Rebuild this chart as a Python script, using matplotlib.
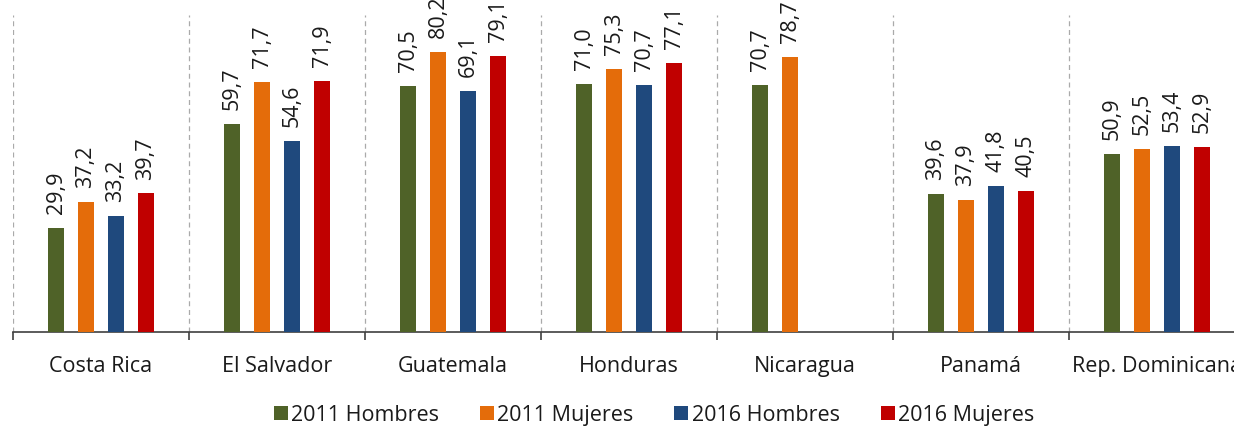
import numpy as np
import matplotlib.pyplot as plt

plt.rcParams['font.family'] = ['Open Sans', 'DejaVu Sans']

paises = ["Costa Rica", "El Salvador", "Guatemala", "Honduras", "Nicaragua", "Panamá", "Rep. Dominicana"]
series = ["2011 Hombres", "2011 Mujeres", "2016 Hombres", "2016 Mujeres"]
h2011 = [29.9, 59.7, 70.5, 71.0, 70.7, 39.6, 50.9]
m2011 = [37.2, 71.7, 80.2, 75.3, 78.7, 37.9, 52.5]
h2016 = [33.2, 54.6, 69.1, 70.7, np.nan, 41.8, 53.4]
m2016 = [39.7, 71.9, 79.1, 77.1, np.nan, 40.5, 52.9]
colores = ["#4F6228", "#E46C0A", "#1F497D", "#C00000"]

W, H = 1234, 426
fig = plt.figure(figsize=(W / 100, H / 100), dpi=100)
ax = fig.add_axes([13 / W, 1 - 332 / H, 1232 / W, 317 / H])

x = np.arange(len(paises)) + 0.5
ancho = 16 / 176
paso = 30 / 176
datos = [h2011, m2011, h2016, m2016]
for i, (vals, c, nom) in enumerate(zip(datos, colores, series)):
    pos = x + (i - 1.5) * paso
    ax.bar(pos, vals, width=ancho, color=c, label=nom, zorder=3)
    for xp, v in zip(pos, vals):
        if np.isnan(v):
            continue
        ax.annotate(f"{v:.1f}".replace(".", ","), (xp, v), xytext=(0, 10),
                    textcoords="offset points", rotation=90, ha="center",
                    va="bottom", fontsize=15.5, color="#1a1a1a", annotation_clip=False)

# separadores punteados
for b in range(len(paises) + 1):
    ax.axvline(b, color="#aaaaaa", linestyle=(0, (4, 3)), linewidth=0.9, zorder=1)

ax.set_xlim(0, len(paises))
ax.set_ylim(0, 90.8)
ax.set_yticks([])
for s in ["top", "right", "left"]:
    ax.spines[s].set_visible(False)
ax.spines["bottom"].set_color("#404040")
ax.spines["bottom"].set_linewidth(1.2)

ax.set_xticks(np.arange(len(paises) + 1))
ax.set_xticklabels([])
ax.tick_params(axis="x", length=6, width=1.2, color="#404040")
ax.set_xticks(x, minor=True)
ax.set_xticklabels(paises, minor=True, fontsize=15.5, color="#1a1a1a")
ax.tick_params(axis="x", which="minor", length=0, pad=17)

fig.legend(loc="lower center", bbox_to_anchor=(0.53, -0.045), ncol=4, frameon=False,
           fontsize=15.5, handlelength=0.65, handleheight=0.65, handletextpad=0.15,
           columnspacing=1.9, labelcolor="#1a1a1a")

fig.savefig("out.png", dpi=100)
